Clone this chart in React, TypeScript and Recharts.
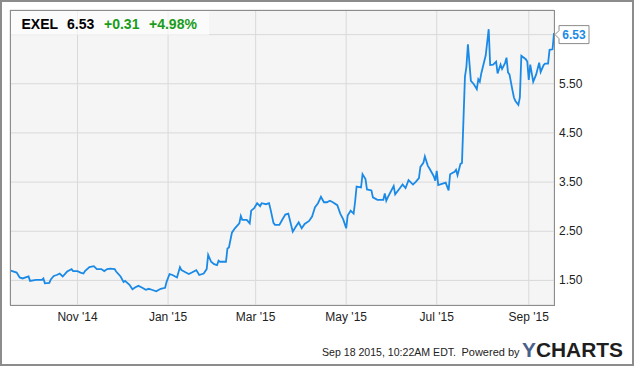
import React from 'react';
import { LineChart, Line, XAxis, YAxis, CartesianGrid } from 'recharts';

const dates = [
  '2014-09-17','2014-09-21','2014-09-23','2014-09-25','2014-09-29','2014-09-30','2014-10-04','2014-10-08','2014-10-09','2014-10-10',
  '2014-10-13','2014-10-14','2014-10-16','2014-10-18','2014-10-20','2014-10-22','2014-10-25','2014-10-28','2014-10-29','2014-11-01',
  '2014-11-03','2014-11-05','2014-11-06','2014-11-09','2014-11-12','2014-11-14','2014-11-17','2014-11-19','2014-11-21','2014-11-23',
  '2014-11-26','2014-11-27','2014-11-30','2014-12-02','2014-12-03','2014-12-06','2014-12-08','2014-12-10','2014-12-12','2014-12-14',
  '2014-12-17','2014-12-19','2014-12-21','2014-12-24','2014-12-27','2014-12-30','2014-12-31','2015-01-02','2015-01-04','2015-01-07',
  '2015-01-09','2015-01-10','2015-01-13','2015-01-15','2015-01-17','2015-01-20','2015-01-22','2015-01-25','2015-01-27','2015-01-28',
  '2015-01-30','2015-02-01','2015-02-03','2015-02-04','2015-02-05','2015-02-09','2015-02-10','2015-02-11','2015-02-13','2015-02-15',
  '2015-02-18','2015-02-19','2015-02-20','2015-02-23','2015-02-25','2015-02-26','2015-02-28','2015-03-02','2015-03-04','2015-03-05',
  '2015-03-08','2015-03-10','2015-03-11','2015-03-13','2015-03-14','2015-03-17','2015-03-19','2015-03-21','2015-03-23','2015-03-26',
  '2015-03-28','2015-03-30','2015-04-01','2015-04-03','2015-04-06','2015-04-08','2015-04-10','2015-04-12','2015-04-14','2015-04-16',
  '2015-04-18','2015-04-20','2015-04-22','2015-04-25','2015-04-27','2015-04-29','2015-05-01','2015-05-02','2015-05-04','2015-05-06',
  '2015-05-07','2015-05-08','2015-05-11','2015-05-12','2015-05-14','2015-05-15','2015-05-18','2015-05-19','2015-05-22','2015-05-26',
  '2015-05-27','2015-05-28','2015-05-29','2015-06-02','2015-06-03','2015-06-06','2015-06-08','2015-06-10','2015-06-12','2015-06-15',
  '2015-06-17','2015-06-19','2015-06-20','2015-06-22','2015-06-23','2015-06-25','2015-06-26','2015-06-29','2015-06-30','2015-07-01',
  '2015-07-02','2015-07-05','2015-07-07','2015-07-09','2015-07-10','2015-07-13','2015-07-14','2015-07-15','2015-07-17','2015-07-18',
  '2015-07-20','2015-07-21','2015-07-22','2015-07-24','2015-07-26','2015-07-28','2015-07-29','2015-07-30','2015-07-31','2015-08-03',
  '2015-08-05','2015-08-06','2015-08-08','2015-08-10','2015-08-11','2015-08-13','2015-08-14','2015-08-16','2015-08-17','2015-08-18',
  '2015-08-19','2015-08-21','2015-08-22','2015-08-23','2015-08-25','2015-08-26','2015-08-27','2015-08-30','2015-08-31','2015-09-01',
  '2015-09-02','2015-09-04','2015-09-06','2015-09-08','2015-09-09','2015-09-11','2015-09-12','2015-09-14','2015-09-15','2015-09-17',
  '2015-09-18',
];

const prices = [
  1.70,1.66,1.56,1.54,1.58,1.49,1.51,1.51,1.54,1.44,
  1.45,1.52,1.59,1.61,1.64,1.58,1.68,1.73,1.69,1.69,
  1.66,1.64,1.69,1.77,1.79,1.73,1.73,1.69,1.73,1.74,
  1.73,1.68,1.58,1.47,1.49,1.41,1.32,1.36,1.39,1.36,
  1.31,1.33,1.31,1.28,1.33,1.35,1.47,1.63,1.61,1.56,
  1.77,1.71,1.66,1.63,1.66,1.71,1.61,1.64,1.73,2.02,
  1.88,1.83,1.81,1.90,1.88,1.88,2.15,2.17,2.47,2.56,
  2.66,2.81,2.73,2.73,2.66,2.92,2.97,3.07,3.01,3.07,
  3.05,3.07,2.95,2.67,2.63,2.63,2.74,2.84,2.86,2.49,
  2.59,2.68,2.56,2.65,2.71,2.80,2.99,3.07,3.20,3.09,
  3.09,3.12,3.09,3.03,2.86,2.74,2.56,2.82,2.92,2.86,
  3.10,3.41,3.39,3.66,3.56,3.35,3.33,3.19,3.14,3.14,
  3.27,3.12,3.19,3.42,3.25,3.37,3.45,3.38,3.54,3.45,
  3.51,3.58,3.81,3.89,4.02,3.83,3.78,3.62,3.53,3.73,
  3.44,3.47,3.49,3.33,3.66,3.71,3.75,3.64,3.87,3.89,
  5.64,5.85,6.30,5.56,5.49,5.39,5.59,5.54,5.71,6.08,
  6.61,5.88,5.89,5.95,5.71,5.89,5.80,5.92,6.03,5.73,
  5.69,5.37,5.22,5.15,5.07,5.22,6.07,6.00,5.95,5.58,
  5.89,5.54,5.69,5.93,5.74,5.88,5.91,5.91,6.19,6.20,
  6.53,
];

const xTickDates = ['2014-11-01', '2015-01-01', '2015-03-01', '2015-05-01', '2015-07-01', '2015-09-01'];
const xTickLabels = ["Nov '14", "Jan '15", "Mar '15", "May '15", "Jul '15", "Sep '15"];
const yTicks = [1.5, 2.5, 3.5, 4.5, 5.5, 6.5];

const symbol = 'EXEL';
const lastPriceText = '6.53';
const changeText = '+0.31';
const changePctText = '+4.98%';
const timestampText = 'Sep 18 2015, 10:22AM EDT.';
const poweredText = 'Powered by';

const FONT = "Arial, 'Liberation Sans', sans-serif";
const LINE_COLOR = '#1b8ae6';

const toTs = (s: string) => {
  const [y, m, d] = s.split('-').map(Number);
  return Date.UTC(y, m - 1, d);
};

const data = dates.map((d, i) => ({ t: toTs(d), v: prices[i] }));
const xTicks = xTickDates.map(toTs);
const xDomain = [Date.UTC(2014, 8, 16, 12), Date.UTC(2015, 8, 18, 0)];

const formatX = (t: number) => {
  const idx = xTicks.indexOf(t);
  return idx >= 0 ? xTickLabels[idx] : '';
};

const YTick = (props: any) => {
  const { x, y, payload } = props;
  if (payload.value === 6.5) return null;
  return (
    <text x={x} y={y} dy={4} textAnchor="start" fontSize={12} fontFamily={FONT} fill="#222">
      {payload.value.toFixed(2)}
    </text>
  );
};

const LastLabel = (props: any) => {
  const { x, y, index, value } = props;
  if (index !== data.length - 1 && value !== prices[prices.length - 1]) return null;
  const cy = y + 1.5;
  const left = x + 5;
  const right = x + 35;
  const top = cy - 9;
  const bottom = cy + 9;
  return (
    <g>
      <path
        d={`M${left},${top} L${right},${top} L${right},${bottom} L${left},${bottom} L${left},${cy + 4} L${x + 1},${cy} L${left},${cy - 4} Z`}
        fill="#ffffff"
        stroke="#8c8c8c"
        strokeWidth={1}
      />
      <text x={(left + right) / 2} y={cy + 4.5} textAnchor="middle" fontSize={12} fontWeight="bold" fontFamily={FONT} fill={LINE_COLOR}>
        {lastPriceText}
      </text>
    </g>
  );
};

export default function App() {
  return (
    <div style={{ position: 'absolute', left: 0, top: 0, width: 635, height: 366, background: '#ffffff' }}>
      <div style={{ position: 'absolute', left: 0, top: 0 }}>
        <LineChart width={635} height={366} data={data} margin={{ top: 10, left: 10, right: 0, bottom: 0 }}>
          <CartesianGrid fill="#f5f5f5" stroke="#d9d9d9" strokeWidth={1} vertical horizontal />
          <XAxis
            dataKey="t"
            type="number"
            scale="time"
            domain={xDomain}
            ticks={xTicks}
            tickFormatter={formatX}
            height={61}
            axisLine={false}
            tickLine={false}
            tickSize={0}
            tickMargin={7}
            tick={{ fontSize: 12, fontFamily: FONT, fill: '#222' }}
            allowDataOverflow
          />
          <YAxis
            orientation="right"
            type="number"
            domain={[1, 7]}
            ticks={yTicks}
            width={81}
            axisLine={false}
            tickLine={false}
            tickSize={0}
            tickMargin={5}
            tick={<YTick />}
            allowDataOverflow
          />
          <Line
            type="linear"
            dataKey="v"
            stroke={LINE_COLOR}
            strokeWidth={1.8}
            dot={false}
            activeDot={false}
            isAnimationActive={false}
            label={<LastLabel />}
          />
        </LineChart>
      </div>
      <svg width={635} height={366} style={{ position: 'absolute', left: 0, top: 0, pointerEvents: 'none' }}>
        <rect x={10} y={10} width={199} height={25} fill="#ffffff" fillOpacity={0.6} />
        <rect x={10.5} y={10.5} width={544} height={295} fill="none" stroke="#8c8c8c" strokeWidth={1} />
        <text x={21.5} y={28.5} fontSize={14} fontWeight="bold" fontFamily={FONT} fill="#000">{symbol}</text>
        <text x={67} y={28.5} fontSize={14} fontWeight="bold" fontFamily={FONT} fill="#000">{lastPriceText}</text>
        <text x={104} y={28.5} fontSize={14} fontWeight="bold" fontFamily={FONT} fill="#1a9b1a">{changeText}</text>
        <text x={149} y={28.5} fontSize={14} fontWeight="bold" fontFamily={FONT} fill="#1a9b1a">{changePctText}</text>
        <text x={322} y={356} fontSize={11} fontFamily={FONT} fill="#222" textLength={134} lengthAdjust="spacingAndGlyphs">{timestampText}</text>
        <text x={461.5} y={356} fontSize={11} fontFamily={FONT} fill="#222" textLength={58} lengthAdjust="spacingAndGlyphs">{poweredText}</text>
        <text x={522} y={357} fontSize={20} fontWeight="bold" fontFamily={FONT} textLength={101} lengthAdjust="spacingAndGlyphs">
          <tspan fill="#48618a">Y</tspan>
          <tspan fill="#1e1e1e">CHARTS</tspan>
        </text>
        <rect x={1} y={1} width={632} height={364} fill="none" stroke="#8c8c8c" strokeWidth={2} />
      </svg>
    </div>
  );
}
